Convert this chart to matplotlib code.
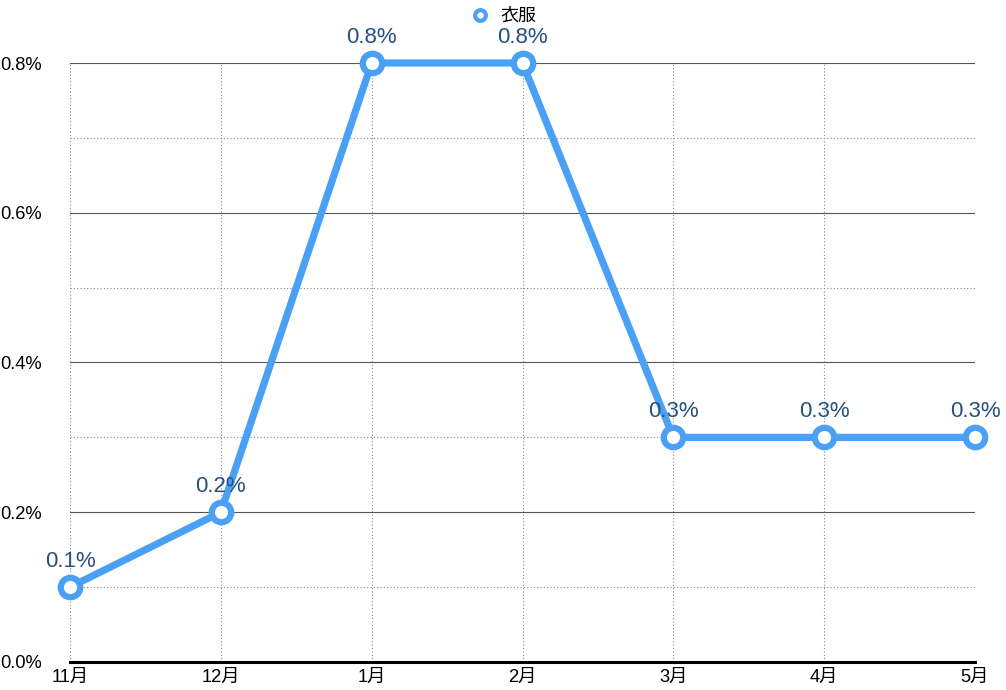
import matplotlib
matplotlib.use('Agg')
import matplotlib.pyplot as plt
from matplotlib.ticker import MultipleLocator, FuncFormatter

plt.rcParams['font.family'] = ['Liberation Sans', 'Noto Sans CJK JP', 'DejaVu Sans']

months = ['11月', '12月', '1月', '2月', '3月', '4月', '5月']
values = [0.1, 0.2, 0.8, 0.8, 0.3, 0.3, 0.3]
series_name = '衣服'

line_color = '#4aa0f5'
label_color = '#25507f'

fig = plt.figure(figsize=(10.06, 6.9), dpi=100)
ax = fig.add_axes([70 / 1006, 28 / 690, 905 / 1006, 599 / 690])

x = list(range(len(months)))
ax.plot(x, values, color=line_color, lw=5.2, marker='o', ms=14,
        markerfacecolor='white', markeredgecolor=line_color, mew=4.5,
        label=series_name, zorder=5, clip_on=False)

for xi, v in zip(x, values):
    ax.annotate(f'{v:.1f}%', (xi, v), xytext=(0, 11), textcoords='offset points',
                ha='center', va='bottom', fontsize=16, color=label_color, zorder=6)

ax.set_xlim(0, len(months) - 1)
ax.set_ylim(0, 0.8)
ax.set_xticks(x)
ax.set_xticklabels(months)
ax.yaxis.set_major_locator(MultipleLocator(0.2))
ax.yaxis.set_minor_locator(MultipleLocator(0.1))
ax.yaxis.set_major_formatter(FuncFormatter(lambda v, p: f'{v:.1f}%'))

ax.grid(axis='y', which='major', color='#555555', lw=0.8, ls='-')
ax.grid(axis='y', which='minor', color='#888888', lw=0.8, ls=(0, (1, 2)))
ax.grid(axis='x', which='major', color='#888888', lw=0.8, ls=(0, (1, 2)))

for side in ['top', 'right', 'left']:
    ax.spines[side].set_visible(False)
ax.spines['bottom'].set_color('black')
ax.spines['bottom'].set_linewidth(2.2)
ax.spines['bottom'].set_zorder(4)

ax.tick_params(axis='both', which='both', length=0, labelsize=13.2, colors='black')
ax.tick_params(axis='y', pad=20)
ax.tick_params(axis='x', pad=5)

leg = fig.legend(loc='upper center', bbox_to_anchor=(0.5, 1.012), frameon=False,
                 fontsize=13, handlelength=1.2, handletextpad=0.5, markerscale=0.55)
for h in leg.legend_handles:
    h.set_linewidth(0)
    h.set_markeredgewidth(3)

fig.savefig('out.png', dpi=100)
